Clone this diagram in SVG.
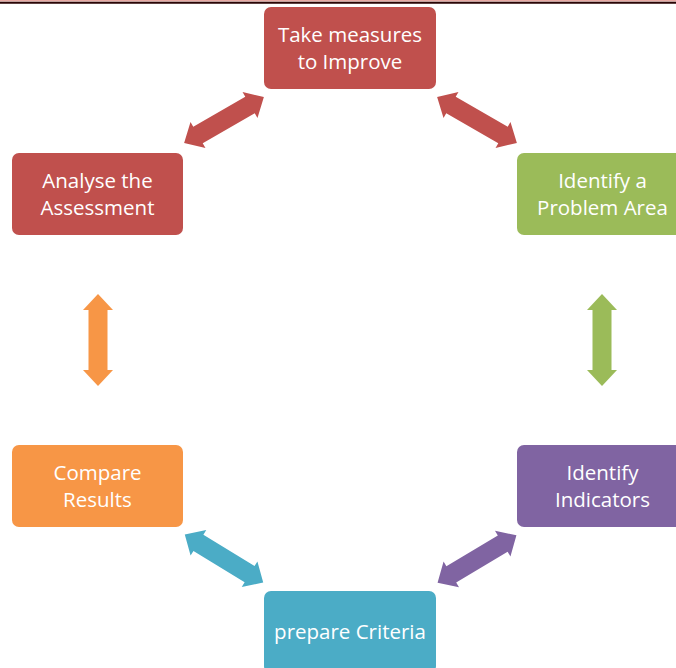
<svg xmlns="http://www.w3.org/2000/svg" xmlns:xlink="http://www.w3.org/1999/xlink" width="676" height="668" viewBox="0 0 676 668">
<style>
.box{stroke:none}
.t{font-family:"Open Sans","Liberation Sans",sans-serif;font-size:20.5px;fill:#ffffff;text-anchor:middle}
</style>
<defs>
<path id="dbl" d="M-46,0 L-30,-15 L-30,-9.5 L30,-9.5 L30,-15 L46,0 L30,15 L30,9.5 L-30,9.5 L-30,15 Z"/>
</defs>
<rect width="676" height="668" fill="#ffffff"/>
<line x1="0" y1="0.8" x2="676" y2="0.8" stroke="#e8aaa4" stroke-width="1.6"/>
<line x1="0" y1="2.8" x2="676" y2="2.8" stroke="#2a0505" stroke-width="2"/>
<g id="connectors">
<use xlink:href="#dbl" fill="#C0504D" transform="translate(224,120) rotate(-29.9)"/>
<use xlink:href="#dbl" fill="#C0504D" transform="translate(477,120) rotate(29.9)"/>
<use xlink:href="#dbl" fill="#F79646" transform="translate(98,340) rotate(90)"/>
<use xlink:href="#dbl" fill="#9BBB59" transform="translate(602,340) rotate(90)"/>
<use xlink:href="#dbl" fill="#4BACC6" transform="translate(224,558.5) rotate(31.5)"/>
<use xlink:href="#dbl" fill="#8064A2" transform="translate(477,559) rotate(-31)"/>
</g>
<g id="n-take">
<rect class="box" x="264" y="7" width="172" height="82" rx="7" fill="#C0504D"/>
<text class="t" x="350" y="42">Take measures</text>
<text class="t" x="350" y="69">to Improve</text>
</g>
<g id="n-analyse">
<rect class="box" x="12" y="153" width="171" height="82" rx="7" fill="#C0504D"/>
<text class="t" x="97.5" y="188">Analyse the</text>
<text class="t" x="97.5" y="215">Assessment</text>
</g>
<g id="n-identify-problem">
<rect class="box" x="517" y="153" width="171" height="82" rx="7" fill="#9BBB59"/>
<text class="t" x="602.5" y="188">Identify a</text>
<text class="t" x="602.5" y="215">Problem Area</text>
</g>
<g id="n-compare">
<rect class="box" x="12" y="445" width="171" height="82" rx="7" fill="#F79646"/>
<text class="t" x="97.5" y="480">Compare</text>
<text class="t" x="97.5" y="507">Results</text>
</g>
<g id="n-indicators">
<rect class="box" x="517" y="445" width="171" height="82" rx="7" fill="#8064A2"/>
<text class="t" x="602.5" y="480">Identify</text>
<text class="t" x="602.5" y="507">Indicators</text>
</g>
<g id="n-criteria">
<rect class="box" x="264" y="591" width="172" height="82" rx="7" fill="#4BACC6"/>
<text class="t" x="350" y="639">prepare Criteria</text>
</g>
</svg>
